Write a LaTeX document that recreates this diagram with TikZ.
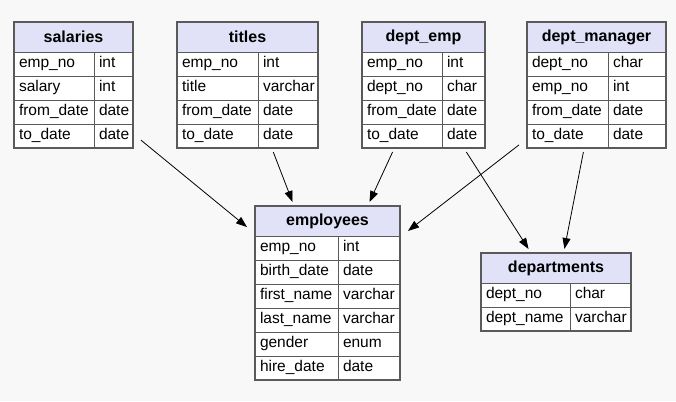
\documentclass[tikz,border=0pt]{standalone}
\usepackage{fontspec}
\setmainfont{Liberation Sans}
\usetikzlibrary{positioning,fit,arrows.meta}

\definecolor{bgcol}{HTML}{F8F8F8}
\definecolor{headcol}{HTML}{E1E1F8}
\definecolor{gridcol}{HTML}{5A5A5A}

\tikzset{
  tablehead/.style={rectangle,draw=gridcol,fill=headcol,line width=0.8pt,minimum height=30pt,
    inner sep=0pt,outer sep=0pt,font=\fontsize{16}{18}\selectfont\bfseries},
  fieldcell/.style={rectangle,draw=gridcol,fill=white,line width=0.8pt,minimum height=24pt,
    inner xsep=5pt,inner ysep=0pt,outer sep=0pt,align=left,text height=11pt,text depth=3.5pt,
    font=\fontsize{15.5}{18}\selectfont},
  tablebox/.style={rectangle,draw=gridcol,line width=1.4pt,inner sep=0pt,outer sep=0pt},
  fk/.style={-{Triangle[length=11pt,width=8pt]},line width=0.8pt,black}
}

% #1 name, #2 linke obere ecke, #3 key width, #4 type width, #5 title, #6 fields
\newcommand\dbtable[6]{%
  \pgfmathsetmacro\keytw{#3-10}%
  \pgfmathsetmacro\typtw{#4-10}%
  \pgfmathsetmacro\totw{#3+#4}%
  \node[tablehead,minimum width=\totw pt,anchor=north west] (#1-head) at #2 {#5};
  \foreach \fld/\typ [count=\i] in {#6} {
    \node[fieldcell,text width=\keytw pt,anchor=north west] (#1-k\i)
      at ([yshift={-(\i-1)*24pt}]#1-head.south west) {\fld};
    \node[fieldcell,text width=\typtw pt,anchor=west] (#1-t\i) at (#1-k\i.east) {\typ};
    \xdef\lastrow{\i}
  }
  \node[tablebox,fit=(#1-head)(#1-k\lastrow)(#1-t\lastrow)] (#1-box) {};
  % connector box with margin
  \node[fit=(#1-box),inner xsep=8pt,inner ysep=4pt,outer sep=0pt] (#1) {};
}

\begin{document}
\begin{tikzpicture}[x=1pt,y=-1pt]
\fill[bgcol] (0,0) rectangle (676,401);
\useasboundingbox (0,0) rectangle (676,401);

\dbtable{salaries}{(14,22)}{80}{39}{salaries}
  {emp\_no/int, salary/int, from\_date/date, to\_date/date}
\dbtable{titles}{(177,22)}{81}{60}{titles}
  {emp\_no/int, title/varchar, from\_date/date, to\_date/date}
\dbtable{deptemp}{(362,22)}{80}{43}{dept\_emp}
  {emp\_no/int, dept\_no/char, from\_date/date, to\_date/date}
\dbtable{deptmgr}{(527,22)}{81}{58}{dept\_manager}
  {dept\_no/char, emp\_no/int, from\_date/date, to\_date/date}
\dbtable{employees}{(255,206)}{83}{62}{employees}
  {emp\_no/int, birth\_date/date, first\_name/varchar, last\_name/varchar, gender/enum, hire\_date/date}
\dbtable{departments}{(481,253)}{89}{61}{departments}
  {dept\_no/char, dept\_name/varchar}

% fremdschluessel
\draw[fk] (salaries) -- (employees);
\draw[fk] (titles) -- (employees);
\draw[fk] (deptemp) -- (employees);
\draw[fk] (deptmgr) -- (employees);
\draw[fk] (deptemp) -- (departments);
\draw[fk] (deptmgr) -- (departments);

\end{tikzpicture}
\end{document}
